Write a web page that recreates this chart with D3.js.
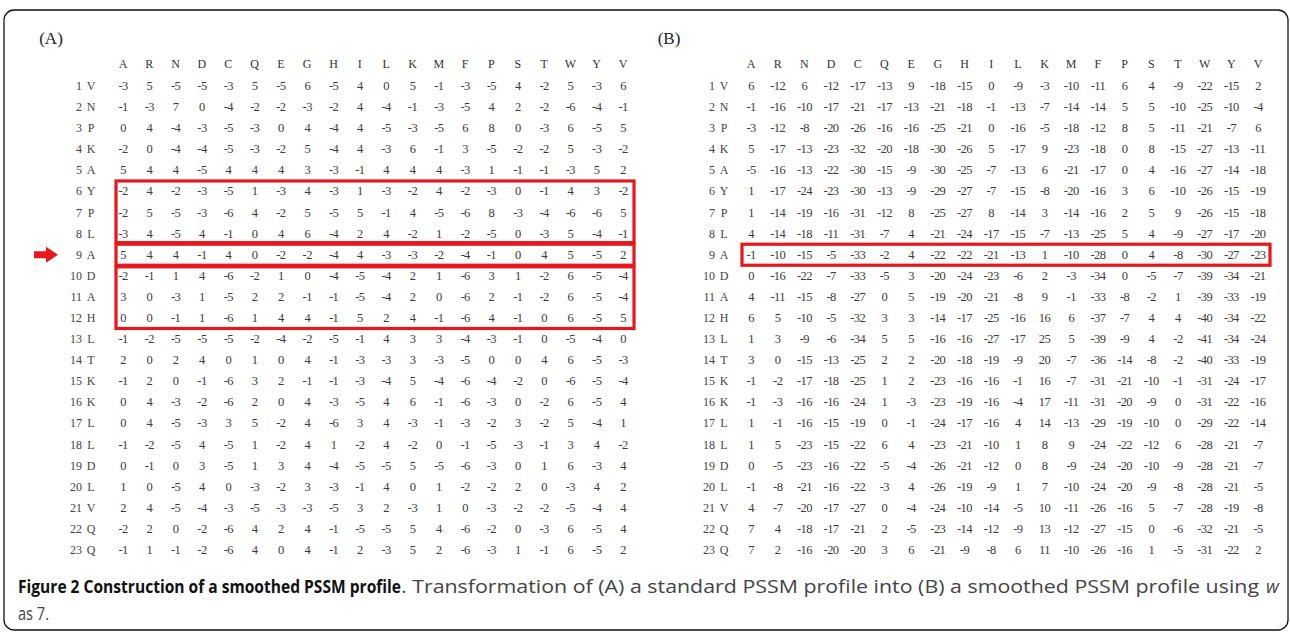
<!doctype html>
<html>
<head>
<meta charset="utf-8"/>
<title>Smoothed PSSM profile</title>
<script src="https://d3js.org/d3.v7.min.js"></script>
<style>
  body { margin: 0; background: #fff; }
  .tbl text { font-family: "Liberation Serif", "DejaVu Serif", serif; }
  .cap { font-family: "Open Sans", "Noto Sans", sans-serif; }
</style>
</head>
<body>
<script>
// column labels (amino acids) and the query sequence
var aminoAcids = ["A","R","N","D","C","Q","E","G","H","I","L","K","M","F","P","S","T","W","Y","V"];
var residues = ["V","N","P","K","A","Y","P","L","A","D","A","H","L","T","K","K","L","L","D","L","V","Q","Q"];

// (A) standard PSSM
var pssmA = [
  [-3,5,-5,-5,-3,5,-5,6,-5,4,0,5,-1,-3,-5,4,-2,5,-3,6],
  [-1,-3,7,0,-4,-2,-2,-3,-2,4,-4,-1,-3,-5,4,2,-2,-6,-4,-1],
  [0,4,-4,-3,-5,-3,0,4,-4,4,-5,-3,-5,6,8,0,-3,6,-5,5],
  [-2,0,-4,-4,-5,-3,-2,5,-4,4,-3,6,-1,3,-5,-2,-2,5,-3,-2],
  [5,4,4,-5,4,4,4,3,-3,-1,4,4,4,-3,1,-1,-1,-3,5,2],
  [-2,4,-2,-3,-5,1,-3,4,-3,1,-3,-2,4,-2,-3,0,-1,4,3,-2],
  [-2,5,-5,-3,-6,4,-2,5,-5,5,-1,4,-5,-6,8,-3,-4,-6,-6,5],
  [-3,4,-5,4,-1,0,4,6,-4,2,4,-2,1,-2,-5,0,-3,5,-4,-1],
  [5,4,4,-1,4,0,-2,-2,-4,4,-3,-3,-2,-4,-1,0,4,5,-5,2],
  [-2,-1,1,4,-6,-2,1,0,-4,-5,-4,2,1,-6,3,1,-2,6,-5,-4],
  [3,0,-3,1,-5,2,2,-1,-1,-5,-4,2,0,-6,2,-1,-2,6,-5,-4],
  [0,0,-1,1,-6,1,4,4,-1,5,2,4,-1,-6,4,-1,0,6,-5,5],
  [-1,-2,-5,-5,-5,-2,-4,-2,-5,-1,4,3,3,-4,-3,-1,0,-5,-4,0],
  [2,0,2,4,0,1,0,4,-1,-3,-3,3,-3,-5,0,0,4,6,-5,-3],
  [-1,2,0,-1,-6,3,2,-1,-1,-3,-4,5,-4,-6,-4,-2,0,-6,-5,-4],
  [0,4,-3,-2,-6,2,0,4,-3,-5,4,6,-1,-6,-3,0,-2,6,-5,4],
  [0,4,-5,-3,3,5,-2,4,-6,3,4,-3,-1,-3,-2,3,-2,5,-4,1],
  [-1,-2,-5,4,-5,1,-2,4,1,-2,4,-2,0,-1,-5,-3,-1,3,4,-2],
  [0,-1,0,3,-5,1,3,4,-4,-5,-5,5,-5,-6,-3,0,1,6,-3,4],
  [1,0,-5,4,0,-3,-2,3,-3,-1,4,0,1,-2,-2,2,0,-3,4,2],
  [2,4,-5,-4,-3,-5,-3,-3,-5,3,2,-3,1,0,-3,-2,-2,-5,-4,4],
  [-2,2,0,-2,-6,4,2,4,-1,-5,-5,5,4,-6,-2,0,-3,6,-5,4],
  [-1,1,-1,-2,-6,4,0,4,-1,2,-3,5,2,-6,-3,1,-1,6,-5,2]
];

// (B) smoothed PSSM, w = 7
var pssmB = [
  [6,-12,6,-12,-17,-13,9,-18,-15,0,-9,-3,-10,-11,6,4,-9,-22,-15,2],
  [-1,-16,-10,-17,-21,-17,-13,-21,-18,-1,-13,-7,-14,-14,5,5,-10,-25,-10,-4],
  [-3,-12,-8,-20,-26,-16,-16,-25,-21,0,-16,-5,-18,-12,8,5,-11,-21,-7,6],
  [5,-17,-13,-23,-32,-20,-18,-30,-26,5,-17,9,-23,-18,0,8,-15,-27,-13,-11],
  [-5,-16,-13,-22,-30,-15,-9,-30,-25,-7,-13,6,-21,-17,0,4,-16,-27,-14,-18],
  [1,-17,-24,-23,-30,-13,-9,-29,-27,-7,-15,-8,-20,-16,3,6,-10,-26,-15,-19],
  [1,-14,-19,-16,-31,-12,8,-25,-27,8,-14,3,-14,-16,2,5,9,-26,-15,-18],
  [4,-14,-18,-11,-31,-7,4,-21,-24,-17,-15,-7,-13,-25,5,4,-9,-27,-17,-20],
  [-1,-10,-15,-5,-33,-2,4,-22,-22,-21,-13,1,-10,-28,0,4,-8,-30,-27,-23],
  [0,-16,-22,-7,-33,-5,3,-20,-24,-23,-6,2,-3,-34,0,-5,-7,-39,-34,-21],
  [4,-11,-15,-8,-27,0,5,-19,-20,-21,-8,9,-1,-33,-8,-2,1,-39,-33,-19],
  [6,5,-10,-5,-32,3,3,-14,-17,-25,-16,16,6,-37,-7,4,4,-40,-34,-22],
  [1,3,-9,-6,-34,5,5,-16,-16,-27,-17,25,5,-39,-9,4,-2,-41,-34,-24],
  [3,0,-15,-13,-25,2,2,-20,-18,-19,-9,20,-7,-36,-14,-8,-2,-40,-33,-19],
  [-1,-2,-17,-18,-25,1,2,-23,-16,-16,-1,16,-7,-31,-21,-10,-1,-31,-24,-17],
  [-1,-3,-16,-16,-24,1,-3,-23,-19,-16,-4,17,-11,-31,-20,-9,0,-31,-22,-16],
  [1,-1,-16,-15,-19,0,-1,-24,-17,-16,4,14,-13,-29,-19,-10,0,-29,-22,-14],
  [1,5,-23,-15,-22,6,4,-23,-21,-10,1,8,9,-24,-22,-12,6,-28,-21,-7],
  [0,-5,-23,-16,-22,-5,-4,-26,-21,-12,0,8,-9,-24,-20,-10,-9,-28,-21,-7],
  [-1,-8,-21,-16,-22,-3,4,-26,-19,-9,1,7,-10,-24,-20,-9,-8,-28,-21,-5],
  [4,-7,-20,-17,-27,0,-4,-24,-10,-14,-5,10,-11,-26,-16,5,-7,-28,-19,-8],
  [7,4,-18,-17,-21,2,-5,-23,-14,-12,-9,13,-12,-27,-15,0,-6,-32,-21,-5],
  [7,2,-16,-20,-20,3,6,-21,-9,-8,6,11,-10,-26,-16,1,-5,-31,-22,2]
];

// highlighted row ranges (window around the centre residue)
var boxesA = [[6,8],[9,9],[10,12]];
var boxesB = [[9,9]];
var arrowRow = 9;

var W = 1290, H = 635;
var red = "#e8161d";

var svg = d3.select("body").append("svg")
    .attr("width", W)
    .attr("height", H);

// frame
svg.append("rect")
    .attr("x", 4).attr("y", 10)
    .attr("width", 1284).attr("height", 620)
    .attr("rx", 10)
    .attr("fill", "none")
    .attr("stroke", "#111")
    .attr("stroke-width", 1.3);

var rowNums = d3.range(1, residues.length + 1);
var y = d3.scalePoint().domain(rowNums).range([86, 550]);

function panel(opt) {
  var x = d3.scalePoint().domain(aminoAcids).range(opt.xr);
  var g = svg.append("g").attr("class", "tbl");

  g.append("text")
    .attr("x", opt.labelX).attr("y", 38)
    .attr("text-anchor", "middle")
    .attr("dominant-baseline", "central")
    .attr("font-size", 17)
    .attr("fill", "#222")
    .text(opt.label);

  g.selectAll(".hd").data(aminoAcids).enter().append("text")
    .attr("x", function(d) { return x(d); })
    .attr("y", 64)
    .attr("text-anchor", "middle")
    .attr("dominant-baseline", "central")
    .attr("font-size", 12)
    .attr("fill", "#333")
    .text(function(d) { return d; });

  // row labels: number + residue
  g.selectAll(".rn").data(rowNums).enter().append("text")
    .attr("x", opt.numX)
    .attr("y", function(d) { return y(d); })
    .attr("text-anchor", "end")
    .attr("dominant-baseline", "central")
    .attr("font-size", 12)
    .attr("fill", "#444")
    .text(function(d) { return d; });

  g.selectAll(".rr").data(rowNums).enter().append("text")
    .attr("x", opt.numX + 9)
    .attr("y", function(d) { return y(d); })
    .attr("text-anchor", "middle")
    .attr("dominant-baseline", "central")
    .attr("font-size", 12)
    .attr("fill", "#444")
    .text(function(d) { return residues[d - 1]; });

  var cells = [];
  opt.data.forEach(function(row, i) {
    row.forEach(function(v, j) {
      cells.push({ r: i + 1, c: aminoAcids[j], v: v });
    });
  });

  g.selectAll(".cell").data(cells).enter().append("text")
    .attr("x", function(d) { return x(d.c); })
    .attr("y", function(d) { return y(d.r); })
    .attr("text-anchor", "middle")
    .attr("dominant-baseline", "central")
    .attr("font-size", 12.5)
    .attr("letter-spacing", -0.6)
    .attr("fill", "#3a3a3a")
    .text(function(d) { return d.v; });

  var half = 10.5;
  var x0 = x(aminoAcids[0]) - opt.padL;
  var x1 = x(aminoAcids[aminoAcids.length - 1]) + opt.padR;
  function top(d) { return y(d[0]) - half + (d[0] > arrowRow ? 1.5 : 0); }
  function bot(d) { return y(d[1]) + half - (d[1] < arrowRow ? 1.5 : 0); }
  g.selectAll(".box").data(opt.boxes).enter().append("rect")
    .attr("x", x0)
    .attr("y", top)
    .attr("width", x1 - x0)
    .attr("height", function(d) { return bot(d) - top(d); })
    .attr("fill", "none")
    .attr("stroke", red)
    .attr("stroke-width", 3.2);

  return x;
}

panel({ label: "(A)", labelX: 51, xr: [123, 623], numX: 82, data: pssmA, boxes: boxesA, padL: 7, padR: 11 });
panel({ label: "(B)", labelX: 669, xr: [751, 1258], numX: 715, data: pssmB, boxes: boxesB, padL: 9, padR: 12 });

// arrow pointing at the centre residue
var ay = y(arrowRow);
svg.append("path")
  .attr("d", "M34," + (ay - 3.5) + "H46V" + (ay - 8) + "L58," + ay + "L46," + (ay + 8) + "V" + (ay + 3.5) + "H34Z")
  .attr("fill", red);

// caption (condensed face imitated with textLength)
var cap = svg.append("g").attr("class", "cap");

cap.append("text")
  .attr("x", 18).attr("y", 593)
  .attr("font-size", 18)
  .attr("font-weight", "bold")
  .attr("fill", "#111")
  .attr("textLength", 383)
  .attr("lengthAdjust", "spacingAndGlyphs")
  .text("Figure 2 Construction of a smoothed PSSM profile");

cap.append("text")
  .attr("x", 401).attr("y", 593)
  .attr("font-size", 18)
  .attr("fill", "#444")
  .attr("textLength", 858)
  .attr("lengthAdjust", "spacingAndGlyphs")
  .text(". Transformation of (A) a standard PSSM profile into (B) a smoothed PSSM profile using");

cap.append("text")
  .attr("x", 1266).attr("y", 593)
  .attr("font-size", 18)
  .attr("font-style", "italic")
  .attr("fill", "#444")
  .text("w");

cap.append("text")
  .attr("x", 18).attr("y", 620)
  .attr("font-size", 18)
  .attr("fill", "#444")
  .attr("textLength", 31)
  .attr("lengthAdjust", "spacingAndGlyphs")
  .text("as 7.");
</script>
</body>
</html>
